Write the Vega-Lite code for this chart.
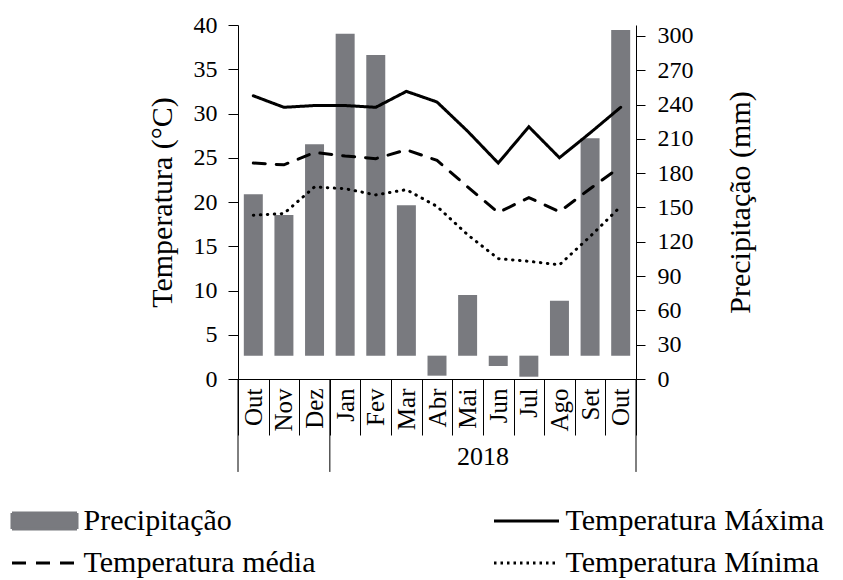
{
  "$schema": "https://vega.github.io/schema/vega-lite/v6.json",
  "width": 398,
  "height": 354,
  "autosize": {"type": "none"},
  "padding": {"left": 238, "top": 25, "right": 207, "bottom": 201},
  "config": {
    "view": {"stroke": null},
    "font": "Liberation Serif, Times New Roman, serif",
    "axis": {"domainColor": "black", "tickColor": "black", "labelColor": "black", "titleColor": "black", "grid": false, "labelFont": "Liberation Serif, Times New Roman, serif", "titleFont": "Liberation Serif, Times New Roman, serif", "titleFontWeight": "normal", "domainWidth": 1, "tickWidth": 1},
    "axisX": {"title": null, "orient": "bottom", "tickBand": "extent", "tickSize": 56, "labelAngle": -90, "labelAlign": "right", "labelBaseline": "middle", "labelPadding": -47, "labelFontSize": 25, "labelOverlap": false},
    "axisLeft": {"tickSize": 10, "labelPadding": 11, "labelFontSize": 24, "titleFontSize": 30, "titlePadding": 16},
    "axisRight": {"tickSize": 9, "labelPadding": 12, "labelFontSize": 24, "titleFontSize": 30, "titleAngle": 270, "titleBaseline": "top", "titlePadding": 32}
  },
  "datasets": {
    "dados": [
      {"mes": "Out17", "serie": "Precipitação", "valor": 161.5},
      {"mes": "Nov17", "serie": "Precipitação", "valor": 143.4},
      {"mes": "Dez17", "serie": "Precipitação", "valor": 205.3},
      {"mes": "Jan18", "serie": "Precipitação", "valor": 302.0},
      {"mes": "Fev18", "serie": "Precipitação", "valor": 283.4},
      {"mes": "Mar18", "serie": "Precipitação", "valor": 151.9},
      {"mes": "Abr18", "serie": "Precipitação", "valor": 2.9},
      {"mes": "Mai18", "serie": "Precipitação", "valor": 73.5},
      {"mes": "Jun18", "serie": "Precipitação", "valor": 11.4},
      {"mes": "Jul18", "serie": "Precipitação", "valor": 2.0},
      {"mes": "Ago18", "serie": "Precipitação", "valor": 68.5},
      {"mes": "Set18", "serie": "Precipitação", "valor": 210.5},
      {"mes": "Out18", "serie": "Precipitação", "valor": 305.3},
      {"mes": "Out17", "serie": "Temperatura Máxima", "valor": 32.0},
      {"mes": "Nov17", "serie": "Temperatura Máxima", "valor": 30.7},
      {"mes": "Dez17", "serie": "Temperatura Máxima", "valor": 30.9},
      {"mes": "Jan18", "serie": "Temperatura Máxima", "valor": 30.9},
      {"mes": "Fev18", "serie": "Temperatura Máxima", "valor": 30.7},
      {"mes": "Mar18", "serie": "Temperatura Máxima", "valor": 32.5},
      {"mes": "Abr18", "serie": "Temperatura Máxima", "valor": 31.3},
      {"mes": "Mai18", "serie": "Temperatura Máxima", "valor": 28.0},
      {"mes": "Jun18", "serie": "Temperatura Máxima", "valor": 24.4},
      {"mes": "Jul18", "serie": "Temperatura Máxima", "valor": 28.5},
      {"mes": "Ago18", "serie": "Temperatura Máxima", "valor": 25.0},
      {"mes": "Set18", "serie": "Temperatura Máxima", "valor": 27.8},
      {"mes": "Out18", "serie": "Temperatura Máxima", "valor": 30.7},
      {"mes": "Out17", "serie": "Temperatura média", "valor": 24.4},
      {"mes": "Nov17", "serie": "Temperatura média", "valor": 24.2},
      {"mes": "Dez17", "serie": "Temperatura média", "valor": 25.6},
      {"mes": "Jan18", "serie": "Temperatura média", "valor": 25.2},
      {"mes": "Fev18", "serie": "Temperatura média", "valor": 24.9},
      {"mes": "Mar18", "serie": "Temperatura média", "valor": 25.9},
      {"mes": "Abr18", "serie": "Temperatura média", "valor": 24.7},
      {"mes": "Mai18", "serie": "Temperatura média", "valor": 21.7},
      {"mes": "Jun18", "serie": "Temperatura média", "valor": 18.8},
      {"mes": "Jul18", "serie": "Temperatura média", "valor": 20.5},
      {"mes": "Ago18", "serie": "Temperatura média", "valor": 18.9},
      {"mes": "Set18", "serie": "Temperatura média", "valor": 21.5},
      {"mes": "Out18", "serie": "Temperatura média", "valor": 24.0},
      {"mes": "Out17", "serie": "Temperatura Mínima", "valor": 18.5},
      {"mes": "Nov17", "serie": "Temperatura Mínima", "valor": 18.7},
      {"mes": "Dez17", "serie": "Temperatura Mínima", "valor": 21.7},
      {"mes": "Jan18", "serie": "Temperatura Mínima", "valor": 21.5},
      {"mes": "Fev18", "serie": "Temperatura Mínima", "valor": 20.8},
      {"mes": "Mar18", "serie": "Temperatura Mínima", "valor": 21.4},
      {"mes": "Abr18", "serie": "Temperatura Mínima", "valor": 19.5},
      {"mes": "Mai18", "serie": "Temperatura Mínima", "valor": 16.3},
      {"mes": "Jun18", "serie": "Temperatura Mínima", "valor": 13.6},
      {"mes": "Jul18", "serie": "Temperatura Mínima", "valor": 13.3},
      {"mes": "Ago18", "serie": "Temperatura Mínima", "valor": 12.9},
      {"mes": "Set18", "serie": "Temperatura Mínima", "valor": 16.1},
      {"mes": "Out18", "serie": "Temperatura Mínima", "valor": 19.5}
    ],
    "inicios": [
      {"mes": "Out17"},
      {"mes": "Jan18"}
    ],
    "fins": [
      {"mes": "Out18"}
    ],
    "rotulos": [
      {"ano": "2018", "mes": "Jun18"}
    ]
  },
  "data": {"name": "dados"},
  "encoding": {
    "x": {
      "field": "mes",
      "type": "nominal",
      "scale": {"domain": ["Out17","Nov17","Dez17","Jan18","Fev18","Mar18","Abr18","Mai18","Jun18","Jul18","Ago18","Set18","Out18"], "paddingInner": 0, "paddingOuter": 0},
      "axis": {"title": null, "labelExpr": "slice(datum.label, 0, 3)"}
    }
  },
  "layer": [
    {
      "transform": [{"filter": "datum.serie === 'Precipitação'"}],
      "mark": {"type": "bar", "width": {"band": 0.62}},
      "encoding": {
        "y": {
          "field": "valor",
          "type": "quantitative",
          "scale": {"domain": [0, 309.6], "nice": false, "zero": false},
          "axis": {"title": "Precipitação (mm)", "orient": "right", "values": [0, 30, 60, 90, 120, 150, 180, 210, 240, 270, 300]}
        },
        "y2": {"datum": 20.4},
        "color": {
          "field": "serie",
          "type": "nominal",
          "scale": {"domain": ["Precipitação", "Temperatura Máxima", "Temperatura média", "Temperatura Mínima"], "range": ["#797a7f", "black", "black", "black"]},
          "legend": {
            "title": null,
            "orient": "none",
            "direction": "horizontal",
            "legendX": -226,
            "legendY": 481,
            "columns": 2,
            "columnPadding": 172,
            "rowPadding": 12,
            "padding": 0,
            "labelFontSize": 30,
            "labelFont": "Liberation Serif, Times New Roman, serif",
            "labelColor": "black",
            "labelLimit": 500,
            "symbolSize": 400,
            "symbolStrokeWidth": 3,
            "symbolOffset": 17.5,
            "labelOffset": 24,
            "encode": {
              "symbols": {
                "update": {
                  "shape": {"signal": "datum.value === 'Precipitação' ? 'M-3.25,-0.8H3.25V0.8H-3.25Z' : 'M-3.25,0H3.25'"},
                  "fill": {"signal": "datum.value === 'Precipitação' ? '#797a7f' : 'transparent'"},
                  "stroke": {"signal": "datum.value === 'Precipitação' ? 'transparent' : 'black'"},
                  "strokeDash": {"signal": "datum.value === 'Temperatura média' ? [14, 10] : (datum.value === 'Temperatura Mínima' ? [2.5, 4] : [1, 0])"},
                  "strokeWidth": {"value": 3},
                  "opacity": {"value": 1}
                }
              }
            }
          }
        }
      }
    },
    {
      "layer": [
        {
          "transform": [{"filter": "datum.serie !== 'Precipitação'"}],
          "mark": {"type": "line", "strokeWidth": 3, "strokeCap": "round"},
          "encoding": {
            "y": {
              "field": "valor",
              "type": "quantitative",
              "scale": {"domain": [0, 40], "nice": false},
              "axis": {"title": "Temperatura (°C)", "orient": "left", "values": [0, 5, 10, 15, 20, 25, 30, 35, 40]}
            },
            "color": {
              "field": "serie",
              "type": "nominal",
              "scale": {"domain": ["Precipitação", "Temperatura Máxima", "Temperatura média", "Temperatura Mínima"], "range": ["#797a7f", "black", "black", "black"]},
              "legend": {
                "title": null,
                "orient": "none",
                "direction": "horizontal",
                "legendX": -226,
                "legendY": 481,
                "columns": 2,
                "columnPadding": 172,
                "rowPadding": 12,
                "padding": 0,
                "labelFontSize": 30,
                "labelFont": "Liberation Serif, Times New Roman, serif",
                "labelColor": "black",
                "labelLimit": 500,
                "symbolSize": 400,
                "symbolStrokeWidth": 3,
                "symbolOffset": 17.5,
                "labelOffset": 24,
                "encode": {
                  "symbols": {
                    "update": {
                      "shape": {"signal": "datum.value === 'Precipitação' ? 'M-3.25,-0.8H3.25V0.8H-3.25Z' : 'M-3.25,0H3.25'"},
                      "fill": {"signal": "datum.value === 'Precipitação' ? '#797a7f' : 'transparent'"},
                      "stroke": {"signal": "datum.value === 'Precipitação' ? 'transparent' : 'black'"},
                      "strokeDash": {"signal": "datum.value === 'Temperatura média' ? [14, 10] : (datum.value === 'Temperatura Mínima' ? [2.5, 4] : [1, 0])"},
                      "strokeWidth": {"value": 3},
                      "opacity": {"value": 1}
                    }
                  }
                }
              }
            },
            "strokeDash": {
              "field": "serie",
              "type": "nominal",
              "scale": {"domain": ["Temperatura Máxima", "Temperatura média", "Temperatura Mínima"], "range": [[1, 0], [12, 11], [0.5, 6.5]]},
              "legend": null
            }
          }
        },
        {
          "data": {"name": "inicios"},
          "mark": {"type": "rule", "color": "black", "strokeWidth": 1},
          "encoding": {
            "x": {"field": "mes", "type": "nominal", "bandPosition": 0, "scale": {"domain": ["Out17","Nov17","Dez17","Jan18","Fev18","Mar18","Abr18","Mai18","Jun18","Jul18","Ago18","Set18","Out18"], "paddingInner": 0, "paddingOuter": 0}, "axis": {"title": null, "labelExpr": "slice(datum.label, 0, 3)"}},
            "y": {"datum": 0, "axis": {"title": "Temperatura (°C)", "orient": "left", "values": [0, 5, 10, 15, 20, 25, 30, 35, 40]}},
            "y2": {"datum": -10.5}
          }
        },
        {
          "data": {"name": "fins"},
          "mark": {"type": "rule", "color": "black", "strokeWidth": 1},
          "encoding": {
            "x": {"field": "mes", "type": "nominal", "bandPosition": 1, "scale": {"domain": ["Out17","Nov17","Dez17","Jan18","Fev18","Mar18","Abr18","Mai18","Jun18","Jul18","Ago18","Set18","Out18"], "paddingInner": 0, "paddingOuter": 0}, "axis": {"title": null, "labelExpr": "slice(datum.label, 0, 3)"}},
            "y": {"datum": 0, "axis": {"title": "Temperatura (°C)", "orient": "left", "values": [0, 5, 10, 15, 20, 25, 30, 35, 40]}},
            "y2": {"datum": -10.5}
          }
        },
        {
          "data": {"name": "rotulos"},
          "mark": {"type": "text", "font": "Liberation Serif, Times New Roman, serif", "fontSize": 26, "color": "black", "align": "center", "baseline": "middle"},
          "encoding": {
            "x": {"field": "mes", "type": "nominal", "bandPosition": 0, "scale": {"domain": ["Out17","Nov17","Dez17","Jan18","Fev18","Mar18","Abr18","Mai18","Jun18","Jul18","Ago18","Set18","Out18"], "paddingInner": 0, "paddingOuter": 0}, "axis": {"title": null, "labelExpr": "slice(datum.label, 0, 3)"}},
            "y": {"datum": -8.8, "axis": {"title": "Temperatura (°C)", "orient": "left", "values": [0, 5, 10, 15, 20, 25, 30, 35, 40]}},
            "text": {"field": "ano"}
          }
        }
      ]
    }
  ],
  "resolve": {"scale": {"y": "independent"}, "axis": {"y": "independent"}}
}
